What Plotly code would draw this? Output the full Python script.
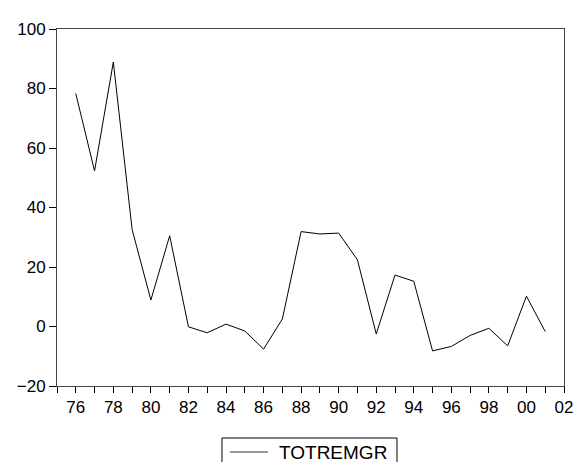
import plotly.graph_objects as go

years = list(range(1976, 2002))
totremgr = [78.3, 52.3, 88.9, 32.6, 8.9, 30.5, -0.1, -2.1, 0.8, -1.5, -7.6, 2.5,
            31.9, 31.1, 31.4, 22.4, -2.5, 17.3, 15.2, -8.2, -6.7, -3.0, -0.6, -6.5,
            10.2, -1.7]

tick_years = list(range(1976, 2003, 2))
tick_labels = ['76', '78', '80', '82', '84', '86', '88', '90', '92', '94', '96', '98', '00', '02']
y_ticks = [-20, 0, 20, 40, 60, 80, 100]
series_name = 'TOTREMGR'

font = dict(family='Liberation Sans, Arial, sans-serif', size=17, color='black')

fig = go.Figure()

fig.add_trace(go.Scatter(
    x=years,
    y=totremgr,
    mode='lines',
    name=series_name,
    line=dict(color='black', width=1),
    showlegend=False,
))

# EViews style legend box under the axis, cut by the bottom edge
fig.add_shape(type='rect', xref='paper', yref='paper',
              x0=0.3254, x1=0.6706, y0=-0.26, y1=-0.1457,
              line=dict(color='black', width=1), fillcolor='white')
fig.add_shape(type='line', xref='paper', yref='paper',
              x0=0.3412, x1=0.4162, y0=-0.1849, y1=-0.1849,
              line=dict(color='#333333', width=1))
fig.add_annotation(text=series_name, xref='paper', yref='paper',
                   x=0.4339, y=-0.1849, xanchor='left', yanchor='middle',
                   showarrow=False,
                   font=dict(family='Liberation Sans, Arial, sans-serif', size=19, color='black'))

fig.update_layout(
    width=574,
    height=462,
    paper_bgcolor='white',
    plot_bgcolor='white',
    font=font,
    margin=dict(l=57, r=10, t=29, b=76, autoexpand=False),
    showlegend=False,
    xaxis=dict(
        range=[1975, 2002],
        tickmode='array',
        tickvals=tick_years,
        ticktext=tick_labels,
        ticklabeloverflow='allow',
        ticks='outside',
        ticklen=6,
        tickcolor='black',
        showgrid=False,
        zeroline=False,
        showline=True,
        linecolor='#444444',
        linewidth=1,
        mirror=True,
        minor=dict(tickmode='linear', tick0=1975, dtick=1, ticks='outside',
                   ticklen=6, tickcolor='black', showgrid=False),
    ),
    yaxis=dict(
        range=[-20, 100],
        tickmode='array',
        tickvals=y_ticks,
        ticks='outside',
        ticklen=7,
        tickcolor='black',
        showgrid=False,
        zeroline=False,
        showline=True,
        linecolor='#444444',
        linewidth=1,
        mirror=True,
    ),
)

# drop the default 8px body margin so the figure fills the window exactly
fig.write_html("out.html",
               config={'displayModeBar': False},
               post_script="document.body.style.margin='0';document.body.style.overflow='hidden';")
